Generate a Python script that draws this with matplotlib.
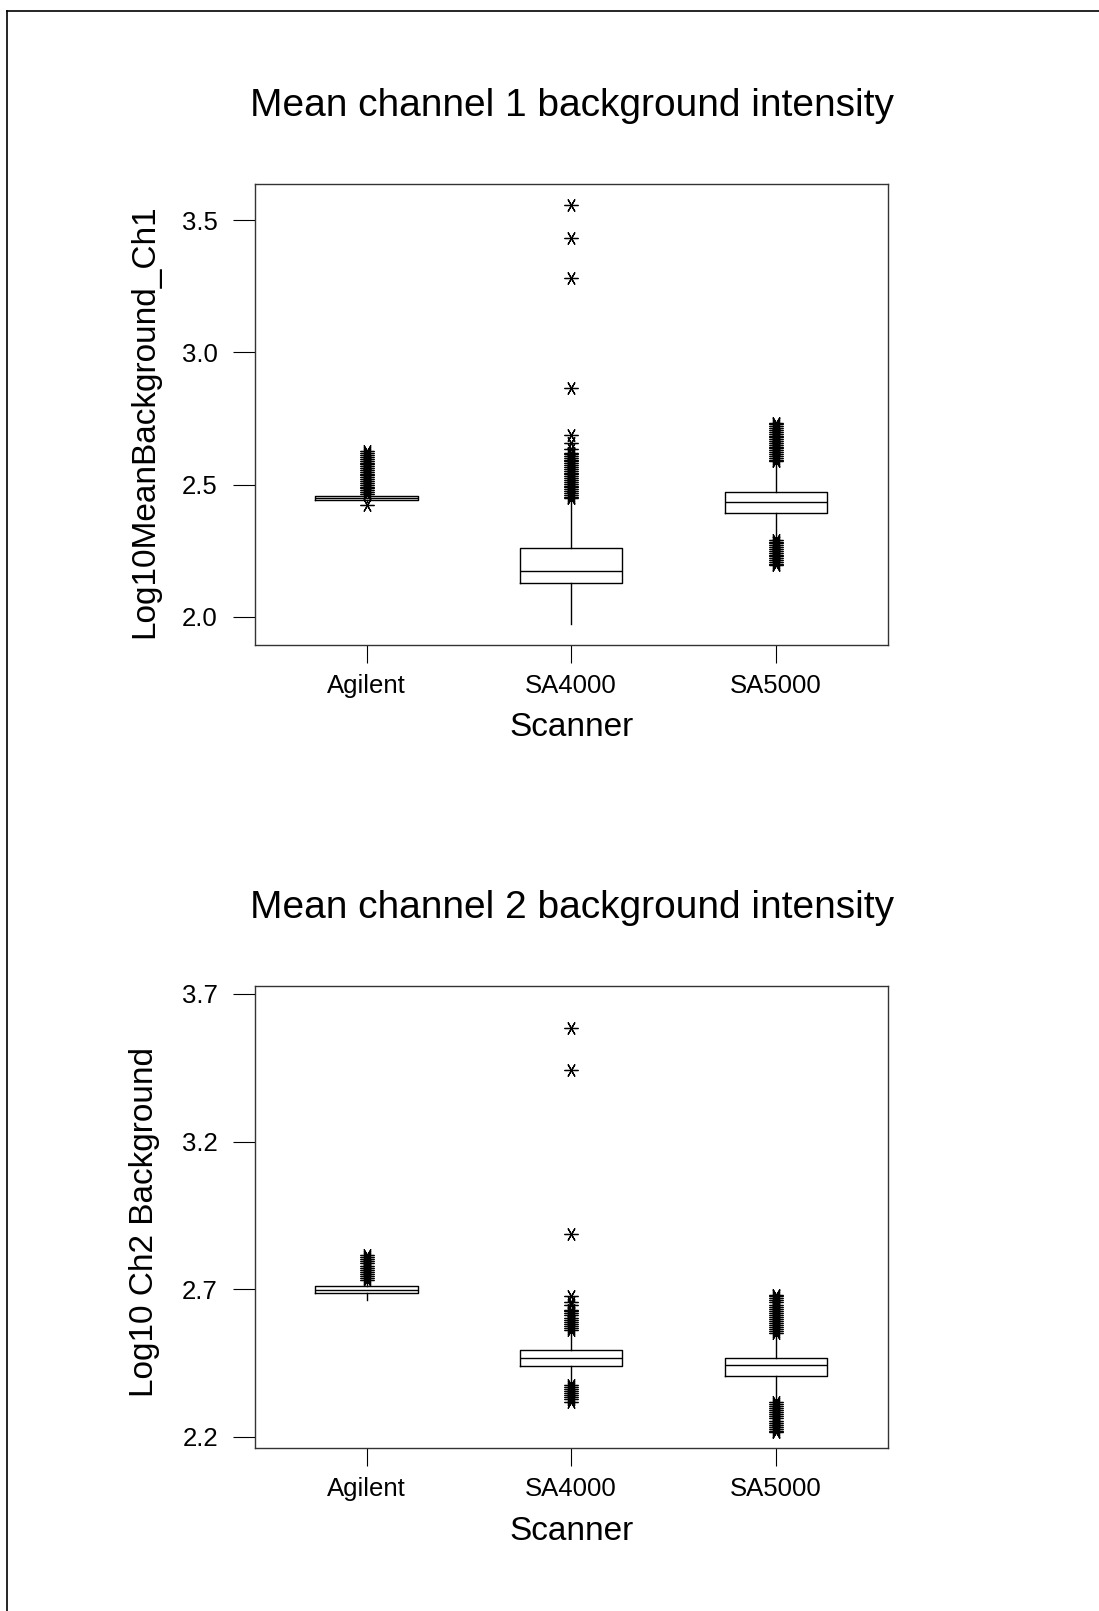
import matplotlib
matplotlib.use("Agg")
import matplotlib.pyplot as plt
from matplotlib.lines import Line2D

plt.rcParams['font.family'] = ['Liberation Sans', 'DejaVu Sans']

scanners = ['Agilent', 'SA4000', 'SA5000']

# channel 1 box summaries (log10 mean background)
ch1_q1 = [2.443, 2.130, 2.393]
ch1_med = [2.450, 2.175, 2.436]
ch1_q3 = [2.457, 2.262, 2.472]
ch1_lo = [2.436, 1.972, 2.299]
ch1_hi = [2.462, 2.442, 2.582]
ch1_out_agilent = [2.423, 2.465, 2.472, 2.479, 2.486, 2.493, 2.500, 2.507, 2.514,
                   2.521, 2.528, 2.535, 2.542, 2.549, 2.556, 2.563, 2.570, 2.577,
                   2.584, 2.591, 2.598, 2.605, 2.612, 2.619, 2.626]
ch1_out_sa4000 = [2.448, 2.455, 2.462, 2.469, 2.476, 2.483, 2.490, 2.497, 2.504,
                  2.511, 2.518, 2.525, 2.532, 2.539, 2.546, 2.553, 2.560, 2.567,
                  2.574, 2.581, 2.588, 2.595, 2.602, 2.609, 2.616, 2.621, 2.636,
                  2.657, 2.688, 2.867, 3.281, 3.432, 3.558]
ch1_out_sa5000 = [2.588, 2.595, 2.602, 2.609, 2.616, 2.623, 2.630, 2.637, 2.644,
                  2.651, 2.658, 2.665, 2.672, 2.679, 2.686, 2.693, 2.700, 2.707,
                  2.714, 2.721, 2.728, 2.733,
                  2.292, 2.285, 2.278, 2.271, 2.264, 2.257, 2.250, 2.243, 2.236,
                  2.229, 2.222, 2.215, 2.208, 2.201, 2.197]

# channel 2 box summaries
ch2_q1 = [2.686, 2.441, 2.407]
ch2_med = [2.698, 2.468, 2.443]
ch2_q3 = [2.710, 2.494, 2.468]
ch2_lo = [2.665, 2.381, 2.324]
ch2_hi = [2.725, 2.556, 2.544]
ch2_out_agilent = [2.731, 2.738, 2.745, 2.752, 2.759, 2.766, 2.773, 2.780, 2.787,
                   2.794, 2.801, 2.808, 2.816]
ch2_out_sa4000 = [2.562, 2.569, 2.576, 2.583, 2.590, 2.597, 2.604, 2.611, 2.618,
                  2.625, 2.629, 2.646, 2.657, 2.677, 2.887, 3.441, 3.584,
                  2.376, 2.369, 2.362, 2.355, 2.348, 2.341, 2.334, 2.327, 2.319]
ch2_out_sa5000 = [2.550, 2.557, 2.564, 2.571, 2.578, 2.585, 2.592, 2.599, 2.606,
                  2.613, 2.620, 2.627, 2.634, 2.641, 2.648, 2.655, 2.662, 2.669,
                  2.676, 2.680,
                  2.318, 2.311, 2.304, 2.297, 2.290, 2.283, 2.276, 2.269, 2.262,
                  2.255, 2.248, 2.241, 2.234, 2.227, 2.220, 2.217]

ch1_ticks = [2.0, 2.5, 3.0, 3.5]
ch2_ticks = [2.2, 2.7, 3.2, 3.7]

W, H = 1099, 1611
fig = plt.figure(figsize=(W / 100, H / 100), dpi=100)


def stats(q1, med, q3, lo, hi, outs):
    res = []
    for i in range(len(q1)):
        res.append(dict(med=med[i], q1=q1[i], q3=q3[i], whislo=lo[i],
                        whishi=hi[i], fliers=outs[i], label=scanners[i]))
    return res


def panel(top_px, bot_px, st, ylim, ticks, title, ylabel, ylab_y):
    ax = fig.add_axes([254.7 / W, 1 - bot_px / H, (888.4 - 254.7) / W,
                       (bot_px - top_px) / H])
    ax.bxp(st, positions=[1, 2, 3], widths=0.5, showcaps=False,
           boxprops=dict(color='black', linewidth=1.0),
           medianprops=dict(color='black', linewidth=1.0),
           whiskerprops=dict(color='black', linewidth=1.0),
           flierprops=dict(marker=(6, 2, 30), markersize=10, markeredgewidth=0.9,
                           markeredgecolor='black', color='black',
                           linestyle='none'))
    ax.set_xlim(0.4535, 3.551)
    ax.set_ylim(*ylim)
    ax.set_yticks(ticks)
    ax.set_yticklabels(['%.1f' % t for t in ticks])
    ax.set_xticks([1, 2, 3])
    ax.set_xticklabels(scanners)
    ax.tick_params(axis='y', length=15.5, width=0.8, pad=11, labelsize=18.5)
    ax.tick_params(axis='x', length=13, width=0.8, pad=8, labelsize=18.5)
    for s in ax.spines.values():
        s.set_linewidth(1.0)
        s.set_color('#333333')
    fig.text(572 / W, 1 - (top_px - 78) / H, title, fontsize=28,
             ha='center', va='center')
    fig.text(572 / W, 1 - (bot_px + 83) / H, 'Scanner', fontsize=24,
             ha='center', va='center')
    fig.text(145 / W, 1 - ylab_y / H, ylabel, fontsize=24, rotation=90,
             ha='center', va='center')
    return ax


panel(184, 645, stats(ch1_q1, ch1_med, ch1_q3, ch1_lo, ch1_hi,
                      [ch1_out_agilent, ch1_out_sa4000, ch1_out_sa5000]),
      (1.894, 3.637), ch1_ticks, 'Mean channel 1 background intensity',
      'Log10MeanBackground_Ch1', 421)

panel(986, 1448, stats(ch2_q1, ch2_med, ch2_q3, ch2_lo, ch2_hi,
                       [ch2_out_agilent, ch2_out_sa4000, ch2_out_sa5000]),
      (2.162, 3.727), ch2_ticks, 'Mean channel 2 background intensity',
      'Log10 Ch2 Background', 1222)

# page frame, only top and left edges fall inside the image
fig.add_artist(Line2D([7 / W, 7 / W], [0, 1 - 11 / H], color='black',
                      linewidth=1.2, transform=fig.transFigure))
fig.add_artist(Line2D([7 / W, 1], [1 - 11 / H, 1 - 11 / H], color='black',
                      linewidth=1.2, transform=fig.transFigure))

fig.savefig('out.png', dpi=100)
